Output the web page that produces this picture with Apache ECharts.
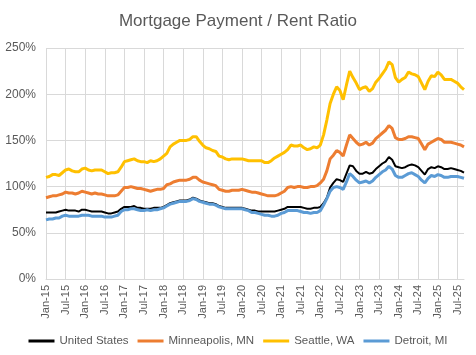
<!DOCTYPE html>
<html>
<head>
<meta charset="utf-8">
<script src="https://cdn.jsdelivr.net/npm/echarts@6/dist/echarts.min.js"></script>
<style>html,body{margin:0;padding:0;background:#fff}#c{width:476px;height:355px}</style>
</head>
<body>
<div id="c"></div>
<script>
const categories = [
'Jan-15','Feb-15','Mar-15','Apr-15','May-15','Jun-15','Jul-15','Aug-15','Sep-15','Oct-15','Nov-15','Dec-15',
'Jan-16','Feb-16','Mar-16','Apr-16','May-16','Jun-16','Jul-16','Aug-16','Sep-16','Oct-16','Nov-16','Dec-16',
'Jan-17','Feb-17','Mar-17','Apr-17','May-17','Jun-17','Jul-17','Aug-17','Sep-17','Oct-17','Nov-17','Dec-17',
'Jan-18','Feb-18','Mar-18','Apr-18','May-18','Jun-18','Jul-18','Aug-18','Sep-18','Oct-18','Nov-18','Dec-18',
'Jan-19','Feb-19','Mar-19','Apr-19','May-19','Jun-19','Jul-19','Aug-19','Sep-19','Oct-19','Nov-19','Dec-19',
'Jan-20','Feb-20','Mar-20','Apr-20','May-20','Jun-20','Jul-20','Aug-20','Sep-20','Oct-20','Nov-20','Dec-20',
'Jan-21','Feb-21','Mar-21','Apr-21','May-21','Jun-21','Jul-21','Aug-21','Sep-21','Oct-21','Nov-21','Dec-21',
'Jan-22','Feb-22','Mar-22','Apr-22','May-22','Jun-22','Jul-22','Aug-22','Sep-22','Oct-22','Nov-22','Dec-22',
'Jan-23','Feb-23','Mar-23','Apr-23','May-23','Jun-23','Jul-23','Aug-23','Sep-23','Oct-23','Nov-23','Dec-23',
'Jan-24','Feb-24','Mar-24','Apr-24','May-24','Jun-24','Jul-24','Aug-24','Sep-24','Oct-24','Nov-24','Dec-24',
'Jan-25','Feb-25','Mar-25','Apr-25','May-25','Jun-25','Jul-25','Aug-25','Sep-25'
];

const unitedStates = [
72,72,72,72,73,74,75,74,74,74,73,75,
75,74,73,73,73,73,72,71,71,72,73,76,
78,78,78,79,77,77,76,76,76,77,77,77,
78,80,82,83,84,85,85,85,86,88,87,85,
84,83,82,82,81,79,78,77,77,77,77,77,
77,76,75,74,74,73,73,73,73,73,73,74,
75,76,78,78,78,78,78,77,76,76,77,77,
78,82,88,99,104,108,107,105,114,123,122,117,
114,114,116,114,115,119,122,125,127,132,129,122,
121,120,121,123,124,123,121,117,113,119,121,120,
122,121,119,119,120,119,118,117,115
];

const minneapolis = [
88,89,90,90,91,92,94,93,93,92,93,95,
94,93,92,93,92,92,91,90,90,90,91,95,
99,99,100,99,98,98,97,96,95,96,97,97,
98,102,103,105,106,107,107,107,108,110,110,107,
105,104,103,102,101,97,96,95,95,96,96,96,
97,96,95,94,94,93,92,91,90,90,90,91,
93,95,99,100,99,100,100,99,99,100,100,101,
104,108,117,130,134,139,137,133,145,156,152,148,
145,146,148,145,147,152,155,158,161,166,163,153,
151,151,152,154,154,153,152,146,140,146,148,150,
152,151,148,148,148,147,146,145,143
];

const seattle = [
110,111,113,113,112,115,118,119,117,116,116,119,
120,118,117,118,118,118,116,114,115,115,116,121,
127,128,129,130,128,127,127,126,128,127,128,130,
133,136,143,146,148,150,150,150,151,154,154,149,
145,142,141,139,138,133,132,130,129,130,130,130,
130,129,128,128,128,128,128,126,126,128,131,133,
135,137,140,145,144,144,145,142,140,141,143,142,
145,156,172,190,200,208,204,194,210,225,218,212,
205,207,208,203,206,213,217,222,227,235,232,218,
213,216,218,224,222,221,219,212,205,214,220,219,
224,221,216,216,216,214,212,208,205
];

const detroit = [
64,65,65,66,66,68,69,68,68,68,68,69,
69,69,68,68,68,68,67,67,67,68,69,73,
75,75,76,76,75,74,74,75,74,75,75,76,
77,79,81,82,83,84,84,84,85,87,86,84,
83,82,81,81,80,78,77,76,76,76,76,76,
76,75,74,72,72,71,70,69,69,68,68,69,
71,72,74,74,74,74,73,72,72,71,72,72,
74,80,87,95,99,100,99,97,105,114,111,107,
104,105,106,104,106,110,113,116,118,122,119,112,
110,110,112,114,115,113,111,107,104,109,112,111,
113,112,110,110,111,111,111,110,109
];

const yTicks = [0, 50, 100, 150, 200, 250];
const seriesNames = ['United States', 'Minneapolis, MN', 'Seattle, WA', 'Detroit, MI'];
const seriesColors = ['#000000', '#ED7D31', '#FFC000', '#5B9BD5'];

const FONT = 'Liberation Sans';
const chart = echarts.init(document.getElementById('c'), null, {renderer: 'canvas'});
chart.setOption({
  animation: false,
  backgroundColor: '#ffffff',
  title: {
    text: 'Mortgage Payment / Rent Ratio',
    left: 'center',
    top: 8,
    textStyle: {fontFamily: FONT, fontSize: 17, fontWeight: 'normal', color: '#595959'}
  },
  legend: {
    top: 330,
    left: 'center',
    icon: 'rect',
    itemWidth: 26,
    itemHeight: 3,
    itemGap: 9,
    textStyle: {fontFamily: FONT, fontSize: 11.5, color: '#595959'},
    data: seriesNames.map(function (n, i) {
      return {name: n, itemStyle: {color: seriesColors[i]}};
    })
  },
  grid: {left: 46, right: 12, top: 48, bottom: 76, containLabel: false},
  xAxis: {
    type: 'category',
    data: categories,
    boundaryGap: false,
    axisLine: {lineStyle: {color: '#D9D9D9'}},
    axisTick: {show: false},
    axisLabel: {interval: 5, rotate: 90, fontFamily: FONT, fontSize: 11, color: '#595959', margin: 6},
    splitLine: {show: true, interval: 5, lineStyle: {color: '#D9D9D9', width: 1}}
  },
  yAxis: {
    type: 'value',
    min: yTicks[0],
    max: yTicks[yTicks.length - 1],
    interval: 50,
    axisLine: {show: false},
    axisTick: {show: false},
    axisLabel: {formatter: '{value}%', fontFamily: FONT, fontSize: 12, color: '#595959', margin: 10},
    splitLine: {lineStyle: {color: '#D9D9D9', width: 1}}
  },
  series: [
    {name: seriesNames[0], type: 'line', data: unitedStates, symbol: 'none', lineStyle: {color: seriesColors[0], width: 2}, itemStyle: {color: seriesColors[0]}},
    {name: seriesNames[1], type: 'line', data: minneapolis, symbol: 'none', lineStyle: {color: seriesColors[1], width: 3}, itemStyle: {color: seriesColors[1]}},
    {name: seriesNames[2], type: 'line', data: seattle, symbol: 'none', lineStyle: {color: seriesColors[2], width: 3}, itemStyle: {color: seriesColors[2]}},
    {name: seriesNames[3], type: 'line', data: detroit, symbol: 'none', lineStyle: {color: seriesColors[3], width: 3}, itemStyle: {color: seriesColors[3]}}
  ]
});
</script>
</body>
</html>
